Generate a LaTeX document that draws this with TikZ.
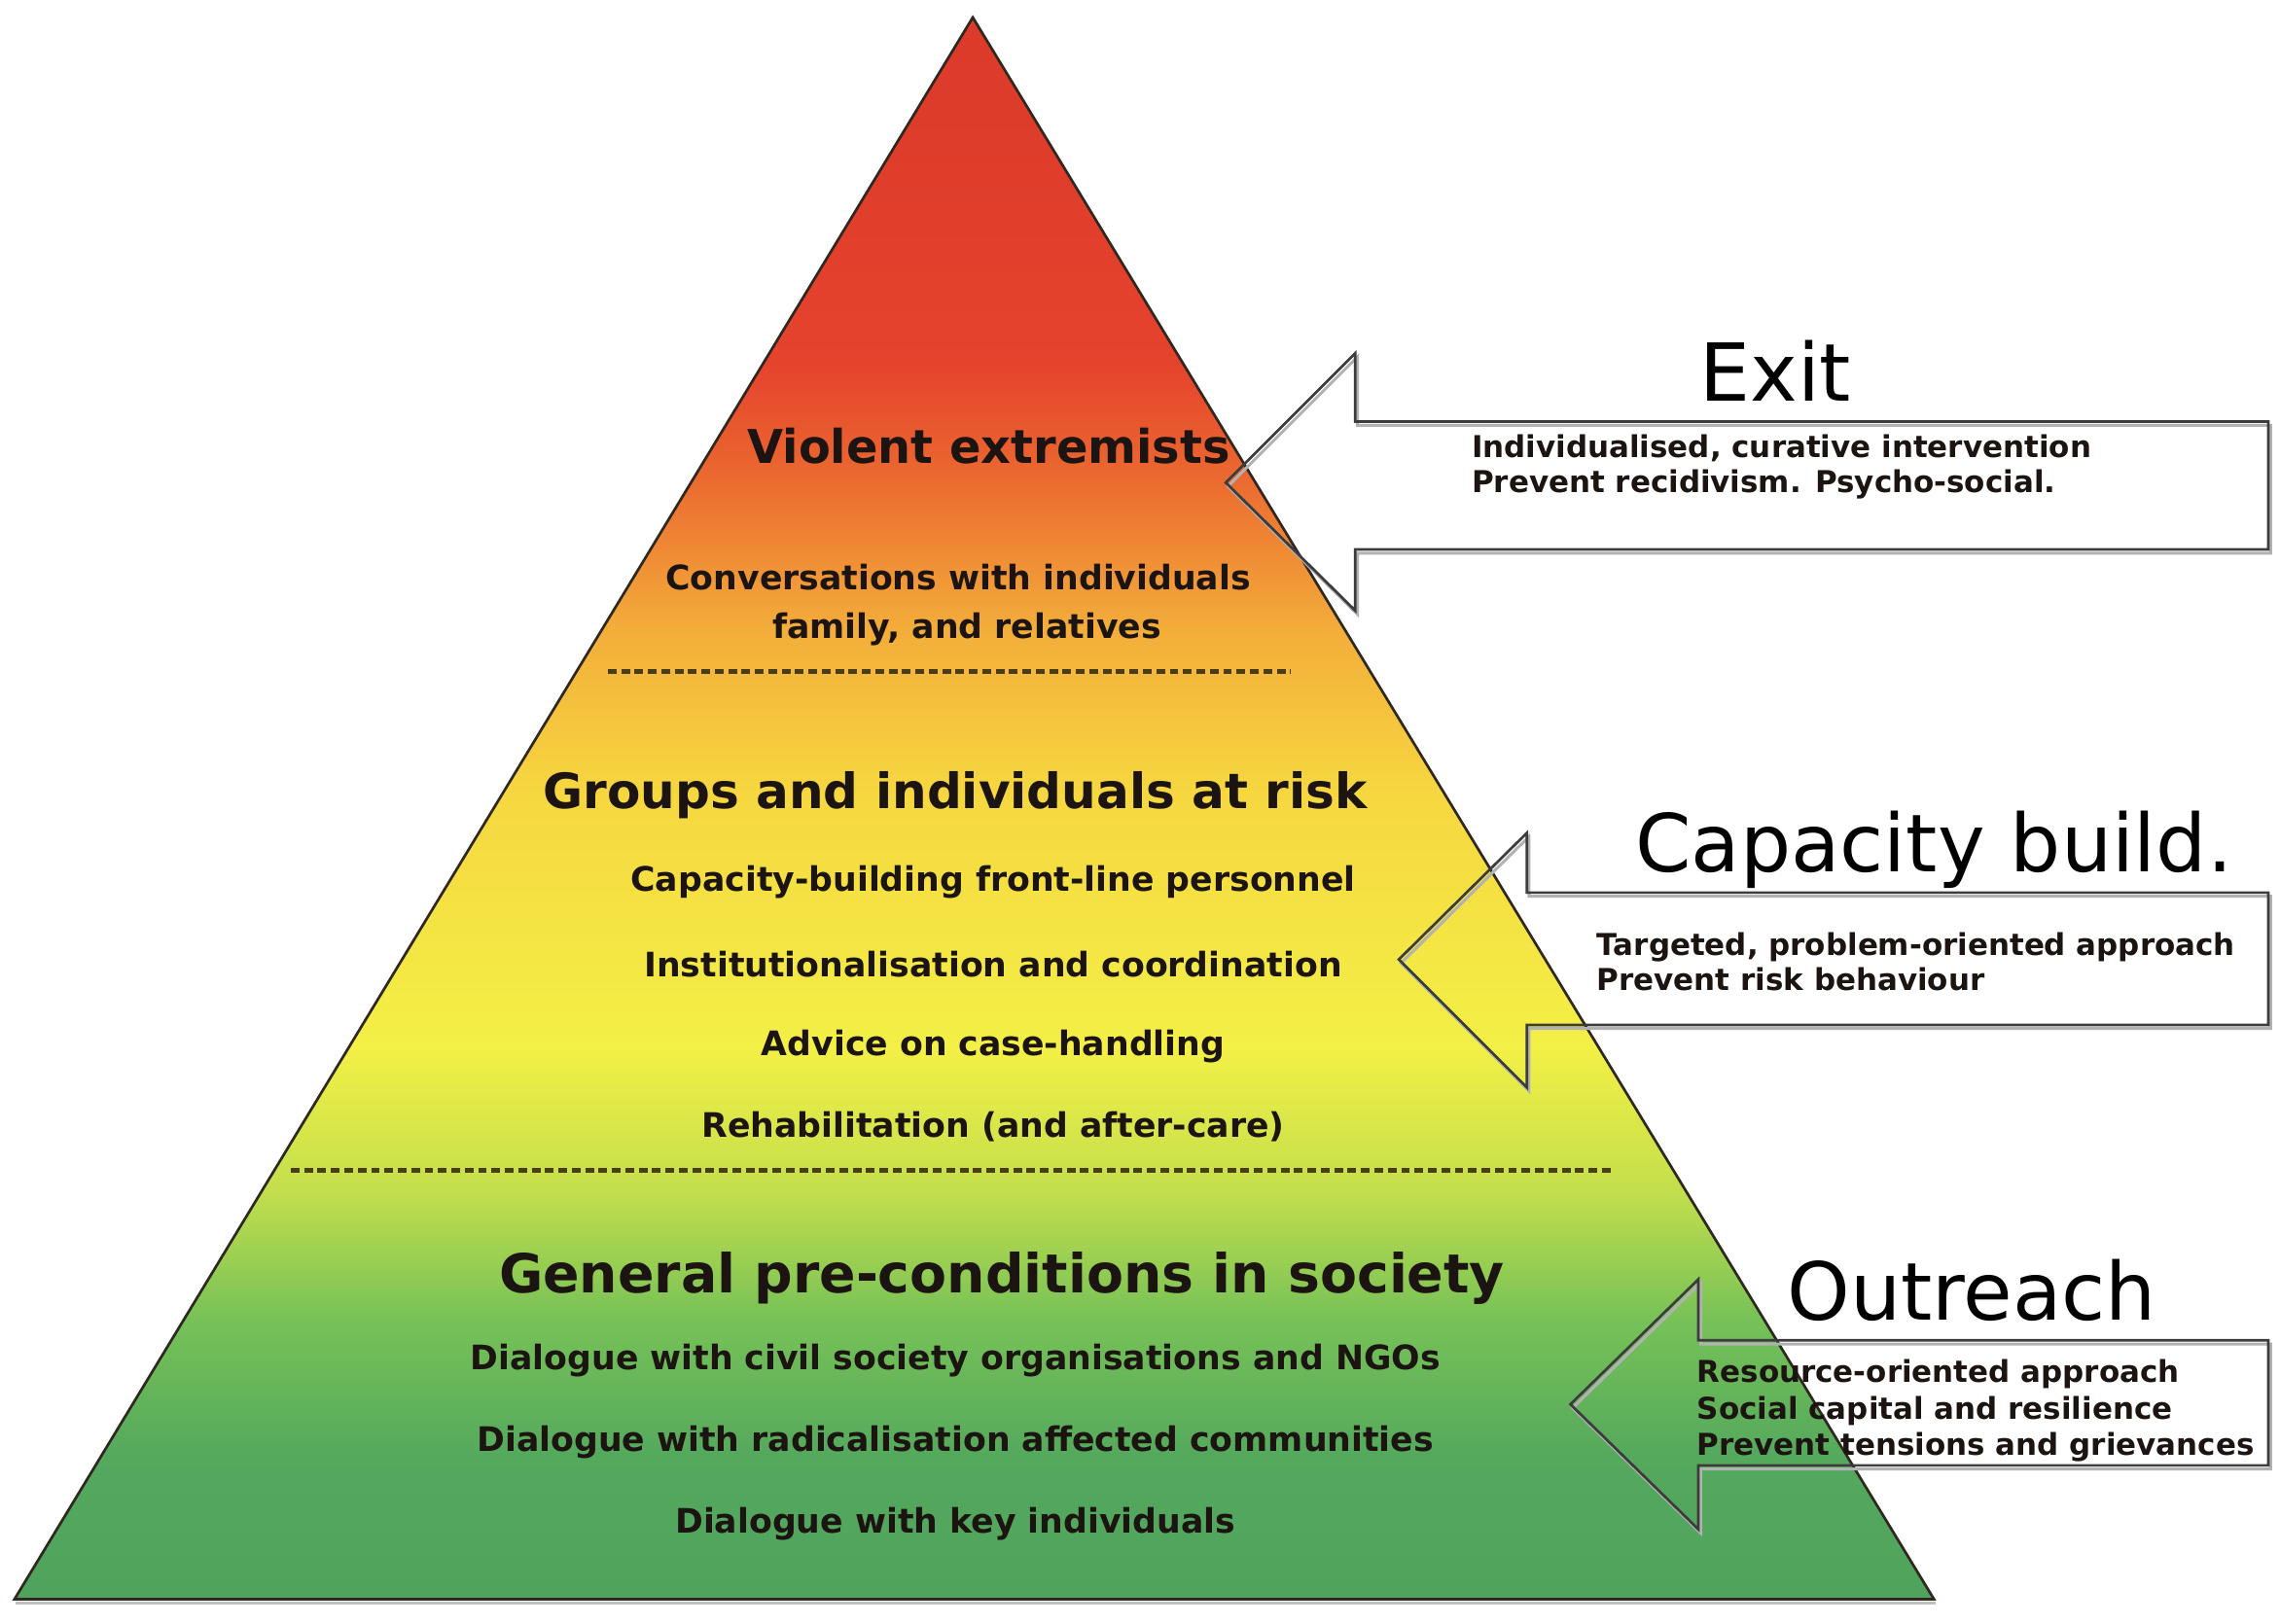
\documentclass[tikz,border=0pt]{standalone}
\usepackage{fontspec}
\setmainfont{DejaVu Sans}
\definecolor{txt}{HTML}{1C1410}
\definecolor{c1}{HTML}{DB392A}
\definecolor{c2}{HTML}{E5432D}
\definecolor{c3}{HTML}{EB6A30}
\definecolor{c4}{HTML}{F3AC3A}
\definecolor{c5}{HTML}{F6D640}
\definecolor{c6}{HTML}{F3F046}
\definecolor{c7}{HTML}{C2DE4C}
\definecolor{c8}{HTML}{78C257}
\definecolor{c9}{HTML}{55A95D}
\definecolor{c10}{HTML}{4FA25C}
\definecolor{edge}{HTML}{2E2820}
\definecolor{arr}{HTML}{3C3C3C}
\definecolor{dashc}{HTML}{4A3C14}
\begin{document}
\begin{tikzpicture}[x=1pt,y=-1pt,
  pyrhead/.style={font=\fontsize{32}{38}\selectfont\bfseries, text=txt, inner sep=0pt},
  pyrhead2/.style={font=\fontsize{33.5}{40}\selectfont\bfseries, text=txt, inner sep=0pt},
  pyrhead3/.style={font=\fontsize{37}{44}\selectfont\bfseries, text=txt, inner sep=0pt},
  pyritem/.style={font=\fontsize{23.2}{28}\selectfont\bfseries, text=txt, inner sep=0pt},
  arrtitle/.style={font=\fontsize{55}{62}\selectfont, text=black, inner sep=0pt, anchor=base},
  arrtext/.style={font=\fontsize{20.7}{24.5}\selectfont\bfseries, text=txt, inner sep=0pt, anchor=base west},
  sep/.style={draw=dashc, line width=3pt, dash pattern=on 6pt off 3.2pt},
  arrowshape/.style={draw=arr, line width=1.8pt, line join=miter},
  arrowshadow/.style={draw=black!30, line width=2pt, line join=miter}
]
\useasboundingbox (0,0) rectangle (1568,1117);
\fill[white] (0,0) rectangle (1568,1117);

% pyramid
\coordinate (apex) at (669,12);
\coordinate (bl) at (10,1100);
\coordinate (br) at (1330,1100);
\begin{scope}
  \clip (apex) -- (br) -- (bl) -- cycle;
  \shade[top color=c1, bottom color=c2] (0,0) rectangle (1568,251);
  \shade[top color=c2, bottom color=c3] (0,250) rectangle (1568,331);
  \shade[top color=c3, bottom color=c4] (0,330) rectangle (1568,431);
  \shade[top color=c4, bottom color=c5] (0,430) rectangle (1568,541);
  \shade[top color=c5, bottom color=c6] (0,540) rectangle (1568,721);
  \shade[top color=c6, bottom color=c7] (0,720) rectangle (1568,821);
  \shade[top color=c7, bottom color=c8] (0,820) rectangle (1568,906);
  \shade[top color=c8, bottom color=c9] (0,905) rectangle (1568,1001);
  \shade[top color=c9, bottom color=c10] (0,1000) rectangle (1568,1110);
\end{scope}
\draw[black!25, line width=2pt] (11,1103) -- (1331,1103);
\draw[edge, line width=1.8pt, line join=miter] (apex) -- (br) -- (bl) -- cycle;

% separators
\coordinate (s1a) at (418,462); \coordinate (s1b) at (888,462);
\coordinate (s2a) at (200,805); \coordinate (s2b) at (1110,805);
\draw[sep] (s1a) -- (s1b);
\draw[sep] (s2a) -- (s2b);

% pyramid texts
\node[pyrhead]  (ve)   at (680,307) {Violent extremists};
\node[pyritem]  (conv) at (659,397) {Conversations with individuals};
\node[pyritem]  (fam)  at (665,433) {family, and relatives};
\node[pyrhead2] (grp)  at (657,547) {Groups and individuals at risk};
\node[pyritem]  (cap)  at (683,607) {Capacity-building front-line personnel};
\node[pyritem]  (inst) at (683,663) {Institutionalisation and coordination};
\node[pyritem]  (adv)  at (683,720) {Advice on case-handling};
\node[pyritem]  (reh)  at (683,775) {Rehabilitation (and after-care)};
\node[pyrhead3] (gen)  at (689,879) {General pre-conditions in society};
\node[pyritem]  (d1)   at (657,936) {Dialogue with civil society organisations and NGOs};
\node[pyritem]  (d2)   at (657,992) {Dialogue with radicalisation affected communities};
\node[pyritem]  (d3)   at (657,1048) {Dialogue with key individuals};

% arrows (outline only)
\foreach \tx/\ty/\bx/\top/\bot/\ut/\ub in {843/332/932/290/378/243/420, 962/660/1050/614/705/573/748, 1080/966/1168/922/1008/880/1052}{
  \draw[arrowshadow] (\tx+1.5,\ty+2.5) -- (\bx+1.5,\ut+2.5) -- (\bx+1.5,\top+2.5) -- (1561.5,\top+2.5) -- (1561.5,\bot+2.5) -- (\bx+1.5,\bot+2.5) -- (\bx+1.5,\ub+2.5) -- cycle;
  \draw[arrowshape] (\tx,\ty) -- (\bx,\ut) -- (\bx,\top) -- (1560,\top) -- (1560,\bot) -- (\bx,\bot) -- (\bx,\ub) -- cycle;
}

% arrow titles and texts
\node[arrtitle] (exit) at (1221,276) {Exit};
\node[arrtext] (e1) at (1012,315) {Individualised, curative intervention};
\node[arrtext] (e2) at (1012,339) {Prevent recidivism. Psycho-social.};

\node[arrtitle] (capb) at (1330,600) {Capacity build.};
\node[arrtext] (c1t) at (1098,657) {Targeted, problem-oriented approach};
\node[arrtext] (c2t) at (1098,681) {Prevent risk behaviour};

\node[arrtitle] (out) at (1356,908) {Outreach};
\node[arrtext] (o1) at (1167,951) {Resource-oriented approach};
\node[arrtext] (o2) at (1167,976) {Social capital and resilience};
\node[arrtext] (o3) at (1167,1001) {Prevent tensions and grievances};
\end{tikzpicture}
\end{document}
